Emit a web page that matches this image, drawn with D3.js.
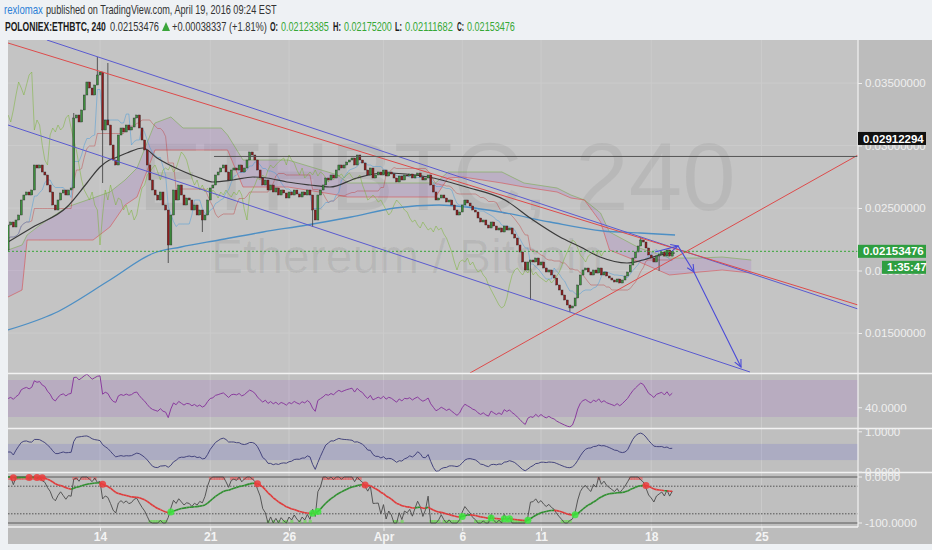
<!DOCTYPE html>
<html lang="en">
<head>
<meta charset="UTF-8">
<title>POLONIEX:ETHBTC, 240</title>
<script src="https://cdnjs.cloudflare.com/ajax/libs/d3/7.8.5/d3.min.js"></script>
<style>
  body { margin: 0; background: #eef1f4; }
  svg { display: block; font-family: "Liberation Sans", Arial, sans-serif; }
</style>
</head>
<body>
<script>
// prices are in mBTC (0.001 BTC); times are "day of March 2016" (Apr 1 = 32)
var firstCandle = Date.UTC(2016, 2, 8, 4);   // 4h candles from here
var firstOpen = 21.64;
var closes = [
  23.64, 23.88, 23.48, 24.04, 24.44, 25.64, 26.04, 26.28, 26.04, 26.44,
  28.44, 28.20, 28.44, 27.88, 27.64, 26.84, 26.28, 25.24, 24.84, 25.64,
  26.20, 26.44, 26.04, 26.44, 26.60, 32.20, 32.44, 31.88, 32.84, 34.04,
  35.08, 34.60, 34.04, 34.84, 35.64, 35.88, 31.24, 32.04, 31.64, 30.04,
  28.84, 28.44, 30.84, 31.40, 31.08, 31.64, 31.24, 31.48, 32.20, 32.44,
  31.40, 30.44, 29.64, 28.44, 27.24, 26.44, 26.04, 25.64, 26.28, 25.24,
  24.84, 22.04, 24.44, 26.44, 25.64, 26.84, 26.04, 25.24, 25.80, 25.64,
  24.84, 25.24, 24.44, 24.84, 24.04, 24.44, 25.64, 26.60, 26.84, 27.64,
  27.88, 28.20, 28.44, 27.88, 27.24, 28.04, 28.20, 28.04, 28.44, 27.88,
  28.20, 28.84, 29.48, 29.24, 28.84, 28.04, 27.40, 26.84, 27.24, 26.44,
  26.84, 26.28, 26.60, 26.04, 26.44, 26.20, 25.80, 26.28, 26.04, 26.44,
  26.12, 25.88, 26.28, 26.04, 26.44, 26.04, 24.84, 24.04, 26.04, 26.44,
  26.84, 27.40, 27.24, 27.64, 27.40, 28.04, 28.44, 28.20, 28.44, 28.68,
  28.84, 29.00, 28.44, 29.24, 28.84, 28.60, 28.04, 27.64, 28.20, 27.40,
  27.64, 27.88, 27.64, 28.04, 27.56, 27.88, 27.72, 27.40, 27.08, 27.56,
  27.24, 27.64, 27.56, 27.72, 27.40, 27.64, 27.80, 27.48, 27.24, 27.40,
  27.64, 26.84, 26.28, 25.64, 25.80, 26.04, 25.80, 25.48, 25.64, 25.24,
  24.84, 24.44, 24.68, 25.24, 25.64, 25.40, 25.16, 24.84, 24.68, 24.20,
  23.88, 24.04, 23.64, 23.40, 23.88, 23.56, 23.24, 23.40, 23.08, 23.56,
  23.24, 23.40, 22.92, 22.60, 22.04, 21.48, 20.68, 20.04, 20.68, 20.84,
  20.68, 21.00, 20.44, 20.68, 20.20, 19.88, 20.04, 19.64, 19.40, 18.84,
  18.44, 18.04, 17.64, 17.24, 17.00, 17.16, 17.80, 18.84, 19.64, 20.04,
  20.20, 19.88, 19.64, 20.04, 19.80, 20.20, 19.64, 19.88, 19.56, 19.40,
  19.24, 19.08, 19.32, 19.00, 19.24, 19.56, 19.88, 20.44, 21.00, 21.48,
  21.96, 22.44, 22.28, 21.80, 21.24, 21.00, 20.68, 21.16, 21.32, 21.48,
  21.16, 21.64, 21.15139, 21.53476
];
// candles with a visible wick beyond the body
var wickIdx  = [0, 25, 34, 36, 38, 61, 74, 116, 199, 214, 241, 248];
var wickHigh = [null, 32.60, 37.08, null, 36.60, null, null, null, null, null, 22.68, null];
var wickLow  = [21.48, null, null, 27.00, null, 20.60, 23.08, 23.48, 17.64, 16.68, null, 19.96];

var maDays  = [8.16, 9.75, 11.9, 13.17, 14, 14.6, 14.95, 15.7, 16.73, 17.62, 19.08, 20.35, 21.17, 22.44,
               23.71, 24.6, 25.87, 27.33, 28.6, 30.32, 32.03, 34.83, 37.24, 39.71, 41.49, 43.2, 44.48,
               45.75, 47.46, 48.48, 49.56, 50.5];
var maBlack = [22.28, 23.48, 25.08, 27.0, 28.28, 28.84, 29.0, 29.4, 29.8, 29.0, 28.04, 27.4, 27.08, 27.24,
               27.48, 27.4, 27.08, 26.84, 26.68, 27.4, 27.8, 27.48, 26.68, 25.64, 24.04, 22.68, 21.9,
               21.08, 20.6, 20.84, 21.24, 21.4];
var ma200Days = [8.16, 11.14, 14.63, 17.43, 19.14, 21.56, 24.35, 27.14, 29.94, 32.73, 35.52, 37.24, 39.4,
                 42.57, 45.94, 48.29, 50.51];
var ma200     = [15.24, 16.6, 19.24, 21.4, 21.88, 22.44, 23.08, 23.64, 24.28, 25.0, 25.24, 25.08, 24.68,
                 23.88, 23.16, 23.0, 22.84];

var cloudDays  = [8.16, 9.05, 9.37, 10.19, 11.9, 13.56, 14.63, 15.59, 16.35, 17.49, 18.5, 19.27, 21.7,
                  22.1, 23.08, 25.94, 29.1, 29.73, 35.3, 36.1, 37.05, 39.52, 40.92, 43.02, 43.9, 44.76,
                  45.78, 46.35, 48.25, 50.16, 52.06, 53.5, 55.35];
var cloudUpper = [21.64, 22.04, 22.84, 23.64, 25.08, 25.80, 26.28, 27.24, 28.20, 31.80, 32.28, 31.40, 31.40,
                  30.84, 28.84, 28.84, 27.64, 27.00, 27.00, 27.88, 27.88, 27.88, 27.00, 26.60, 26.04, 25.64,
                  24.60, 23.08, 21.80, 21.00, 21.00, 21.08, 20.84];
var cloudLower = [17.88, 18.44, 22.44, 22.44, 22.44, 22.44, 23.48, 25.24, 25.88, 29.64, 29.64, 29.64, 29.64,
                  29.64, 26.68, 26.68, 26.04, 25.88, 25.88, 27.40, 27.48, 27.00, 26.68, 26.28, 25.80, 25.64,
                  23.88, 21.64, 20.68, 19.64, 19.88, 20.04, 19.80];

// drawn trend lines: [start, end]
var trendDays   = [[10.63, 62.13], [8.16, 62.13], [8.16, 55.27], [37.49, 62.13]];
var trendPrices = [[38.44, 16.92], [38.20, 17.24], [31.64, 11.88], [11.80, 29.24]];
var levelDay = 21.24, levelPrice = 29.12294;
var arrowDays   = [49.24, 50.70, 51.71, 54.70];
var arrowPrices = [21.48, 21.96, 19.88, 12.28];

var priceTicks = [15, 20, 25, 30, 35];
var dayTicks = [14, 21, 26, 32, 37, 42, 49, 56];
var dayTickLabels = ["14", "21", "26", "Apr", "6", "11", "18", "25"];
var viewDays = [8.159, 62.127];
var headerOHLC = ["0.02123385", "0.02175200", "0.02111682", "0.02153476"];

// ---------------------------------------------------------------
function day(d) { return new Date(Date.UTC(2016, 2, 1) + (d - 1) * 864e5); }

var W = 932, H = 550, L = 8, R = 858;
var svg = d3.select("body").append("svg").attr("width", W).attr("height", H);

var candles = closes.map(function(c, i) {
  var o = i === 0 ? firstOpen : closes[i - 1];
  var hi = Math.max(o, c), lo = Math.min(o, c);
  var k = wickIdx.indexOf(i);
  if (k >= 0) {
    if (wickHigh[k] != null) hi = Math.max(hi, wickHigh[k]);
    if (wickLow[k] != null) lo = Math.min(lo, wickLow[k]);
  }
  return {t: new Date(firstCandle + i * 4 * 3600e3), o: o, c: c, h: hi, l: lo};
});

var x = d3.scaleUtc().domain(viewDays.map(day)).range([L, R]);
var y = d3.scaleLinear().domain([11.8, 38.44]).range([373, 40]);
var yRsi = d3.scaleLinear().domain([18.1, 76.5]).range([428, 374]);
var yPb = d3.scaleLinear().domain([-0.02, 1.07]).range([473, 429]);
var yWr = d3.scaleLinear().domain([-100, 0]).range([523, 477]);

// backgrounds
svg.append("rect").attr("x", L).attr("y", 40).attr("width", W - L).attr("height", 505).attr("fill", "#bcbcbc");
svg.append("rect").attr("x", L).attr("y", 40).attr("width", R - L).attr("height", 333).attr("fill", "#c4c4c4");
svg.append("rect").attr("x", L).attr("y", 374).attr("width", R - L).attr("height", 153).attr("fill", "#bfbfbf");

function clip(id, y0, y1) {
  svg.append("clipPath").attr("id", id).append("rect")
    .attr("x", L).attr("y", y0).attr("width", R - L).attr("height", y1 - y0);
  return svg.append("g").attr("clip-path", "url(#" + id + ")");
}

// vertical grid through all panes
svg.append("g").selectAll("line").data(dayTicks).enter().append("line")
  .attr("x1", function(d) { return x(day(d)); }).attr("x2", function(d) { return x(day(d)); })
  .attr("y1", 40).attr("y2", 527).attr("stroke", "#cbcbcb").attr("stroke-width", 1);

var main = clip("cMain", 40, 373);
main.selectAll(".hg").data(priceTicks).enter().append("line")
  .attr("x1", L).attr("x2", R).attr("y1", function(d) { return y(d); }).attr("y2", function(d) { return y(d); })
  .attr("stroke", "#cbcbcb");

// watermark
main.append("text").attr("x", 138).attr("y", 210).attr("font-size", 96)
  .attr("fill", "rgba(0,0,0,0.06)").text("ETHBTC, 240");
main.append("text").attr("x", 211).attr("y", 273).attr("font-size", 48)
  .attr("fill", "rgba(0,0,0,0.06)").text("Ethereum / Bitcoin");

// ichimoku cloud
var cloud = cloudDays.map(function(d, i) { return {t: day(d), u: cloudUpper[i], l: cloudLower[i]}; });
main.append("path").datum(cloud)
  .attr("d", d3.area().x(function(d) { return x(d.t); }).y0(function(d) { return y(d.l); }).y1(function(d) { return y(d.u); }))
  .attr("fill", "rgba(160,100,200,0.2)");
main.append("path").datum(cloud)
  .attr("d", d3.line().x(function(d) { return x(d.t); }).y(function(d) { return y(d.u); }))
  .attr("fill", "none").attr("stroke", "rgba(110,170,60,0.5)").attr("stroke-width", 1);
main.append("path").datum(cloud)
  .attr("d", d3.line().x(function(d) { return x(d.t); }).y(function(d) { return y(d.l); }))
  .attr("fill", "none").attr("stroke", "rgba(220,60,60,0.5)").attr("stroke-width", 1);

// ichimoku lines derived from the candles
function midRange(n) {
  return candles.map(function(d, i) {
    var w = candles.slice(Math.max(0, i - n + 1), i + 1);
    return (d3.max(w, function(e) { return e.h; }) + d3.min(w, function(e) { return e.l; })) / 2;
  });
}
var priceLine = d3.line().x(function(d) { return x(d.t); }).y(function(d) { return y(d.v); });
var kijun = midRange(26), tenkan = midRange(9);
main.append("path").datum(candles.map(function(d, i) { return {t: d.t, v: kijun[i]}; }))
  .attr("d", priceLine).attr("fill", "none").attr("stroke", "rgba(190,50,50,0.4)");
main.append("path").datum(candles.map(function(d, i) { return {t: d.t, v: tenkan[i]}; }))
  .attr("d", priceLine).attr("fill", "none").attr("stroke", "rgba(60,150,220,0.45)");
main.append("path").datum(candles.slice(26).map(function(d, i) { return {t: candles[i].t, v: d.c}; }))
  .attr("d", priceLine).attr("fill", "none").attr("stroke", "rgba(120,180,50,0.5)");

// moving averages
main.append("path").datum(ma200Days.map(function(d, i) { return {t: day(d), v: ma200[i]}; }))
  .attr("d", priceLine.curve(d3.curveMonotoneX)).attr("fill", "none").attr("stroke", "#4d8fc4").attr("stroke-width", 1.3);
main.append("path").datum(maDays.map(function(d, i) { return {t: day(d), v: maBlack[i]}; }))
  .attr("d", priceLine).attr("fill", "none").attr("stroke", "#3a3a3a").attr("stroke-width", 1.2);
priceLine.curve(d3.curveLinear);

// candles
var cw = 2;
var cg = main.append("g");
cg.selectAll(".wick").data(candles).enter().append("line")
  .attr("x1", function(d) { return x(d.t); }).attr("x2", function(d) { return x(d.t); })
  .attr("y1", function(d) { return y(d.h); }).attr("y2", function(d) { return y(d.l); })
  .attr("stroke", "#3a3a3a").attr("stroke-width", 0.8);
cg.selectAll(".body").data(candles).enter().append("rect")
  .attr("x", function(d) { return x(d.t) - cw / 2; })
  .attr("y", function(d) { return y(Math.max(d.o, d.c)); })
  .attr("width", cw)
  .attr("height", function(d) { return Math.max(1, Math.abs(y(d.o) - y(d.c))); })
  .attr("fill", function(d) { return d.c >= d.o ? "#3d8f3d" : "#8e1d1d"; })
  .attr("stroke", "#2b2b2b").attr("stroke-width", 0.4);

// drawings
var trendColors = ["#5a5ad0", "#dd4b4b", "#5a5ad0", "#dd4b4b"];
trendDays.forEach(function(ds, k) {
  main.append("line")
    .attr("x1", x(day(ds[0]))).attr("y1", y(trendPrices[k][0]))
    .attr("x2", x(day(ds[1]))).attr("y2", y(trendPrices[k][1]))
    .attr("stroke", trendColors[k]).attr("stroke-width", 1);
});
main.append("line").attr("x1", x(day(levelDay))).attr("x2", R)
  .attr("y1", y(levelPrice)).attr("y2", y(levelPrice)).attr("stroke", "#555").attr("stroke-width", 1);
var last = candles[candles.length - 1];
main.append("line").attr("x1", L).attr("x2", R).attr("y1", y(last.c)).attr("y2", y(last.c))
  .attr("stroke", "#37a637").attr("stroke-dasharray", "2,2");

var arrowPts = arrowDays.map(function(d, i) { return [x(day(d)), y(arrowPrices[i])]; });
main.append("path").attr("d", d3.line()(arrowPts))
  .attr("fill", "none").attr("stroke", "#4a4ad8").attr("stroke-width", 1.1);
function arrowHead(a, b) {
  var ang = Math.atan2(b[1] - a[1], b[0] - a[0]), s = 8;
  var p1 = [b[0] - s * Math.cos(ang - 0.45), b[1] - s * Math.sin(ang - 0.45)];
  var p2 = [b[0] - s * Math.cos(ang + 0.45), b[1] - s * Math.sin(ang + 0.45)];
  main.append("path").attr("d", d3.line()([p1, b, p2]))
    .attr("fill", "none").attr("stroke", "#4a4ad8").attr("stroke-width", 1.1);
}
arrowHead(arrowPts[0], arrowPts[1]);
arrowHead(arrowPts[1], arrowPts[2]);
arrowHead(arrowPts[2], arrowPts[3]);

// ---- indicators ----
var cl = candles.map(function(d) { return d.c; });
function rsi(v, n) {
  var seed = d3.mean(v.slice(1, n + 1).map(function(a, i) { return Math.abs(a - v[i]); })) / 2;
  var ag = seed, al = seed, out = [50];
  for (var i = 1; i < v.length; i++) {
    var ch = v[i] - v[i - 1];
    ag = (ag * (n - 1) + Math.max(ch, 0)) / n;
    al = (al * (n - 1) + Math.max(-ch, 0)) / n;
    out.push(100 - 100 / (1 + ag / al));
  }
  return out;
}
function percentB(v, n, m) {
  return v.map(function(c, i) {
    var w = v.slice(Math.max(0, i - n + 1), i + 1);
    if (w.length < 3) return 0.5;
    var mu = d3.mean(w), sd = d3.deviation(w);
    return (c - (mu - m * sd)) / (2 * m * sd);
  });
}
function williams(n) {
  return candles.map(function(d, i) {
    var w = candles.slice(Math.max(0, i - n + 1), i + 1);
    var hh = d3.max(w, function(e) { return e.h; }), ll = d3.min(w, function(e) { return e.l; });
    return hh === ll ? -50 : -100 * (hh - d.c) / (hh - ll);
  });
}
function ema(v, n) {
  var k = 2 / (n + 1), prev = null;
  return v.map(function(a) { prev = prev === null ? a : prev + k * (a - prev); return prev; });
}

var rsiV = rsi(cl, 18), pbV = ema(percentB(cl, 20, 2.5), 4), wrV = williams(21), wrMa = ema(wrV, 20);

// RSI pane
var pRsi = clip("cRsi", 374, 428);
pRsi.append("rect").attr("x", L).attr("width", R - L).attr("y", yRsi(70)).attr("height", yRsi(30) - yRsi(70))
  .attr("fill", "rgba(160,100,200,0.2)");
pRsi.append("path").datum(rsiV)
  .attr("d", d3.line().x(function(d, i) { return x(candles[i].t); }).y(function(d) { return yRsi(d); }))
  .attr("fill", "none").attr("stroke", "#8a3c9e").attr("stroke-width", 1);

// %B pane
var pPb = clip("cPb", 429, 472);
pPb.append("rect").attr("x", L).attr("width", R - L).attr("y", yPb(0.7)).attr("height", yPb(0.3) - yPb(0.7))
  .attr("fill", "rgba(100,100,210,0.2)");
pPb.append("path").datum(pbV)
  .attr("d", d3.line().x(function(d, i) { return x(candles[i].t); }).y(function(d) { return yPb(d); }))
  .attr("fill", "none").attr("stroke", "#45457e").attr("stroke-width", 1);

// Williams %R pane
var pWr = clip("cWr", 473, 527);
[0, -100].forEach(function(v) {
  pWr.append("line").attr("x1", L).attr("x2", R).attr("y1", yWr(v)).attr("y2", yWr(v)).attr("stroke", "#5a5a5a");
});
[-20, -80].forEach(function(v) {
  pWr.append("line").attr("x1", L).attr("x2", R).attr("y1", yWr(v)).attr("y2", yWr(v))
    .attr("stroke", "#555").attr("stroke-dasharray", "1.5,1.5");
});
var step = x(candles[1].t) - x(candles[0].t);
pWr.selectAll(".ob").data(wrV.map(function(v, i) { return {v: v, i: i}; }).filter(function(d) { return d.v > -8; }))
  .enter().append("rect").attr("x", function(d) { return x(candles[d.i].t) - step / 2; }).attr("width", step + 0.5)
  .attr("y", yWr(0)).attr("height", 3).attr("fill", "rgba(235,70,70,0.5)");
pWr.selectAll(".os").data(wrV.map(function(v, i) { return {v: v, i: i}; }).filter(function(d) { return d.v < -92; }))
  .enter().append("rect").attr("x", function(d) { return x(candles[d.i].t) - step / 2; }).attr("width", step + 0.5)
  .attr("y", yWr(-100) - 3).attr("height", 3).attr("fill", "rgba(90,220,60,0.55)");
pWr.append("path").datum(wrV)
  .attr("d", d3.line().x(function(d, i) { return x(candles[i].t); }).y(function(d) { return yWr(d); }))
  .attr("fill", "none").attr("stroke", "#4a4a4a").attr("stroke-width", 0.9);
var segs = wrMa.slice(1).map(function(v, i) { return {a: wrMa[i], b: v, i: i}; });
pWr.selectAll(".ma").data(segs).enter().append("line")
  .attr("x1", function(d) { return x(candles[d.i].t); }).attr("x2", function(d) { return x(candles[d.i + 1].t); })
  .attr("y1", function(d) { return yWr(d.a); }).attr("y2", function(d) { return yWr(d.b); })
  .attr("stroke", function(d) { return d.b >= d.a ? "#2f8f2f" : "#e03a3a"; }).attr("stroke-width", 1.6);
var dots = [];
for (var i = 2; i < wrMa.length; i++) {
  var up0 = wrMa[i - 1] >= wrMa[i - 2], up1 = wrMa[i] >= wrMa[i - 1];
  if (up0 && !up1 && wrMa[i] > -30) dots.push({i: i, c: "rgba(235,60,60,0.85)"});
  if (!up0 && up1 && wrMa[i] < -70) dots.push({i: i, c: "rgba(60,230,60,0.85)"});
}
pWr.selectAll(".dot").data(dots).enter().append("circle")
  .attr("cx", function(d) { return x(candles[d.i].t); }).attr("cy", function(d) { return yWr(wrMa[d.i]); })
  .attr("r", 3.5).attr("fill", function(d) { return d.c; });

// separators
[373.5, 428.5, 472.5].forEach(function(v) {
  svg.append("line").attr("x1", L).attr("x2", W).attr("y1", v).attr("y2", v).attr("stroke", "#f2f2f2").attr("stroke-width", 1.5);
});
svg.append("line").attr("x1", L).attr("x2", R).attr("y1", 527).attr("y2", 527).attr("stroke", "#f2f2f2").attr("stroke-width", 1.5);
svg.append("line").attr("x1", R).attr("x2", R).attr("y1", 40).attr("y2", 527).attr("stroke", "#f2f2f2").attr("stroke-width", 1.2);
svg.append("rect").attr("x", 0).attr("y", 544).attr("width", W).attr("height", 6).attr("fill", "#eef1f4");

// price axis
var yAxis = svg.append("g").attr("transform", "translate(" + R + ",0)")
  .call(d3.axisRight(y).tickValues(priceTicks).tickSize(4).tickPadding(3)
    .tickFormat(function(v) { return (v / 1000).toFixed(8); }));
yAxis.select(".domain").remove();
yAxis.selectAll("line").attr("stroke", "#eee");
yAxis.selectAll("text").attr("fill", "#efefef").attr("font-size", 11.5).attr("font-family", "Liberation Sans, Arial");

// pane axis labels
var paneTicks = [[yRsi(40), "40.0000"], [yPb(1), "1.0000"], [yPb(0), "0.0000"], [yWr(0), "0.0000"], [yWr(-100), "-100.0000"]];
paneTicks.forEach(function(p) {
  svg.append("line").attr("x1", R).attr("x2", R + 4).attr("y1", p[0]).attr("y2", p[0]).attr("stroke", "#eee");
  svg.append("text").attr("x", R + 7).attr("y", p[0]).attr("dy", "0.35em").attr("font-size", 11.5)
    .attr("fill", "#efefef").text(p[1]);
});

// price labels
function tag(x0, yc, w, fill, txt) {
  svg.append("rect").attr("x", x0).attr("y", yc - 6.5).attr("width", w).attr("height", 13).attr("fill", fill);
  svg.append("text").attr("x", x0 + 5).attr("y", yc).attr("dy", "0.36em").attr("font-size", 11.5)
    .attr("font-weight", "bold").attr("fill", "#fff").text(txt);
}
tag(R, y(levelPrice) - 18, 68, "#111", (levelPrice / 1000).toFixed(8));
tag(R, y(last.c), 68, "#2e9e40", (last.c / 1000).toFixed(8));
tag(882, y(last.c) + 16, 44, "#2e9e40", "1:35:47");

// time axis
var xAxis = svg.append("g").attr("transform", "translate(0,527)")
  .call(d3.axisBottom(x).tickValues(dayTicks.map(day)).tickSize(4).tickPadding(1)
    .tickFormat(function(d, i) { return dayTickLabels[i]; }));
xAxis.select(".domain").remove();
xAxis.selectAll("line").attr("stroke", "#eee");
xAxis.selectAll("text").attr("fill", "#f4f4f4").attr("font-size", 12).attr("font-weight", "bold")
  .attr("font-family", "Liberation Sans, Arial");

// header: narrow font look by squeezing each piece into its span
svg.append("rect").attr("x", 0).attr("y", 0).attr("width", W).attr("height", 40).attr("fill", "#eef1f4");
function seg(x0, x1, yb, txt, fill, bold) {
  var t = svg.append("text").attr("font-size", 12.5).attr("font-weight", bold ? "bold" : "normal")
    .attr("fill", fill).text(txt);
  var len = t.node().getComputedTextLength();
  t.attr("transform", "translate(" + x0 + "," + yb + ") scale(" + ((x1 - x0) / len) + ",1)");
}
seg(4, 43, 14, "rexlomax", "#2b7fd6");
seg(46, 277, 14, "published on TradingView.com, April 19, 2016 09:24 EST", "#333");
seg(5, 106, 31, "POLONIEX:ETHBTC, 240", "#1a1a1a", true);
seg(110, 159, 31, (last.c / 1000).toFixed(8), "#333");
svg.append("path").attr("d", "M162,31L170,31L166,22Z").attr("fill", "#3aa53a");
seg(172, 267, 31, "+0.00038337 (+1.81%)", "#333");
var hx = [[270, 278, 281], [333, 341, 344], [395, 402, 405], [457, 464, 467]];
["O:", "H:", "L:", "C:"].forEach(function(k, i) {
  seg(hx[i][0], hx[i][1], 31, k, "#1a1a1a", true);
  seg(hx[i][2], hx[i][2] + 48, 31, headerOHLC[i], "#36a836");
});
</script>
</body>
</html>
